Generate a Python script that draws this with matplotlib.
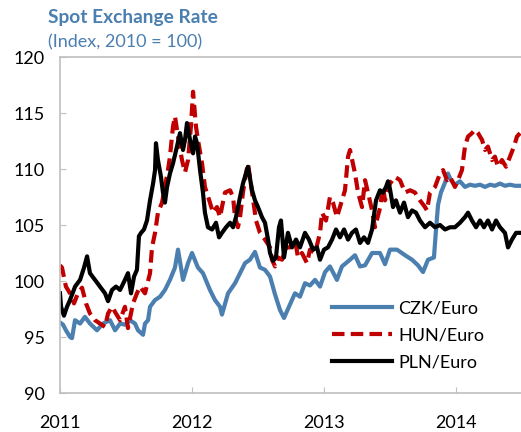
import matplotlib.pyplot as plt

# data (decimal years, index 2010 = 100)
czk_t = [2011.000, 2011.023, 2011.045, 2011.076, 2011.091, 2011.114, 2011.152, 2011.189, 2011.227, 2011.280,
         2011.326, 2011.379, 2011.417, 2011.455, 2011.492, 2011.530, 2011.568, 2011.591, 2011.629, 2011.644,
         2011.667, 2011.682, 2011.720, 2011.758, 2011.795, 2011.833, 2011.871, 2011.894, 2011.932, 2011.970,
         2012.000, 2012.045, 2012.083, 2012.136, 2012.174, 2012.212, 2012.227, 2012.273, 2012.326, 2012.364,
         2012.402, 2012.439, 2012.477, 2012.515, 2012.553, 2012.591, 2012.629, 2012.667, 2012.697, 2012.742,
         2012.780, 2012.818, 2012.856, 2012.894, 2012.932, 2012.970, 2013.008, 2013.045, 2013.098, 2013.136,
         2013.197, 2013.235, 2013.273, 2013.311, 2013.364, 2013.424, 2013.462, 2013.500, 2013.553, 2013.614,
         2013.667, 2013.712, 2013.750, 2013.788, 2013.833, 2013.848, 2013.864, 2013.886, 2013.917, 2013.939,
         2013.962, 2013.992, 2014.030, 2014.068, 2014.106, 2014.144, 2014.182, 2014.220, 2014.258, 2014.295,
         2014.333, 2014.371, 2014.409, 2014.447, 2014.485]
czk = [96.3, 96.1, 95.6, 95.0, 94.9, 96.5, 96.2, 96.8, 96.2, 95.6,
       96.2, 96.5, 95.6, 96.2, 96.1, 96.5, 96.2, 95.6, 95.2, 96.2,
       96.5, 97.7, 98.3, 98.6, 99.2, 100.1, 101.2, 102.8, 100.1, 101.6,
       102.5, 101.2, 100.7, 99.2, 98.3, 97.7, 97.0, 98.9, 99.8, 100.7,
       101.6, 101.9, 102.6, 101.2, 101.0, 100.4, 98.8, 97.4, 96.7, 97.9,
       98.9, 98.6, 99.8, 99.6, 100.1, 99.5, 100.8, 101.3, 100.1, 101.3,
       101.9, 102.3, 101.3, 101.4, 102.5, 102.5, 101.5, 102.8, 102.8, 102.3,
       101.9, 101.4, 100.8, 101.9, 102.1, 104.5, 106.8, 107.9, 108.8, 109.6,
       109.0, 108.6, 108.9, 108.4, 108.6, 108.5, 108.6, 108.4, 108.6, 108.5,
       108.7, 108.5, 108.6, 108.5, 108.5]

hun_t = [2011.000, 2011.015, 2011.045, 2011.076, 2011.106, 2011.136, 2011.167, 2011.197, 2011.227, 2011.265,
         2011.303, 2011.341, 2011.364, 2011.394, 2011.424, 2011.455, 2011.492, 2011.515, 2011.553, 2011.583,
         2011.606, 2011.644, 2011.682, 2011.697, 2011.720, 2011.742, 2011.773, 2011.795, 2011.818, 2011.833,
         2011.856, 2011.871, 2011.894, 2011.924, 2011.947, 2011.970, 2011.992, 2012.008, 2012.030, 2012.045,
         2012.076, 2012.098, 2012.136, 2012.159, 2012.189, 2012.212, 2012.227, 2012.250, 2012.288, 2012.311,
         2012.326, 2012.348, 2012.364, 2012.386, 2012.409, 2012.424, 2012.455, 2012.485, 2012.515, 2012.553,
         2012.591, 2012.606, 2012.629, 2012.652, 2012.682, 2012.712, 2012.742, 2012.780, 2012.803, 2012.833,
         2012.871, 2012.894, 2012.932, 2012.970, 2012.985, 2013.015, 2013.045, 2013.068, 2013.098, 2013.121,
         2013.159, 2013.182, 2013.197, 2013.235, 2013.258, 2013.288, 2013.311, 2013.333, 2013.364, 2013.386,
         2013.424, 2013.447, 2013.462, 2013.500, 2013.538, 2013.576, 2013.614, 2013.652, 2013.689, 2013.727,
         2013.765, 2013.780, 2013.803, 2013.841, 2013.879, 2013.902, 2013.932, 2013.955, 2013.992, 2014.015,
         2014.045, 2014.068, 2014.091, 2014.121, 2014.144, 2014.167, 2014.197, 2014.220, 2014.242, 2014.273,
         2014.295, 2014.318, 2014.348, 2014.379, 2014.409, 2014.439, 2014.462, 2014.485]
hun = [101.4, 101.2, 99.5, 98.9, 98.0, 98.9, 99.4, 98.0, 97.1, 96.5,
       96.2, 95.9, 97.1, 97.7, 97.1, 96.5, 97.7, 95.8, 98.0, 98.9,
       99.5, 98.9, 100.7, 103.0, 104.3, 106.1, 107.0, 108.4, 109.9, 111.1,
       113.8, 114.7, 112.9, 110.8, 109.7, 110.8, 113.8, 116.9, 113.8, 112.6,
       110.5, 108.4, 107.0, 106.1, 106.6, 105.7, 106.6, 107.9, 108.1, 107.5,
       105.7, 104.8, 105.7, 107.9, 109.6, 110.5, 107.9, 105.4, 104.3, 103.7,
       103.0, 101.9, 101.3, 102.1, 101.9, 103.0, 103.0, 103.7, 102.1, 102.5,
       101.6, 102.8, 102.5, 104.3, 106.1, 105.4, 107.5, 107.0, 105.7, 106.6,
       108.1, 111.1, 111.7, 109.6, 107.9, 106.6, 109.0, 107.9, 106.3, 104.8,
       106.5, 108.4, 107.2, 108.7, 109.3, 109.0, 107.9, 108.1, 107.9, 107.2,
       106.6, 106.3, 107.9, 108.4, 109.6, 109.9, 109.0, 109.3, 108.4, 109.0,
       109.9, 112.0, 112.9, 113.2, 113.5, 113.2, 112.6, 111.7, 112.0, 110.8,
       111.1, 110.2, 110.8, 110.2, 111.1, 112.0, 112.9, 113.2]

pln_t = [2011.000, 2011.008, 2011.030, 2011.053, 2011.076, 2011.114, 2011.152, 2011.182, 2011.205, 2011.227,
         2011.265, 2011.303, 2011.341, 2011.364, 2011.394, 2011.424, 2011.455, 2011.492, 2011.515, 2011.538,
         2011.561, 2011.583, 2011.598, 2011.614, 2011.636, 2011.659, 2011.682, 2011.705, 2011.720, 2011.727,
         2011.742, 2011.765, 2011.780, 2011.795, 2011.811, 2011.833, 2011.856, 2011.886, 2011.909, 2011.932,
         2011.947, 2011.962, 2011.985, 2012.008, 2012.023, 2012.038, 2012.061, 2012.083, 2012.098, 2012.121,
         2012.152, 2012.182, 2012.205, 2012.227, 2012.258, 2012.288, 2012.311, 2012.333, 2012.364, 2012.386,
         2012.409, 2012.424, 2012.455, 2012.477, 2012.500, 2012.530, 2012.553, 2012.576, 2012.591, 2012.614,
         2012.636, 2012.659, 2012.674, 2012.697, 2012.727, 2012.758, 2012.788, 2012.818, 2012.856, 2012.886,
         2012.917, 2012.947, 2012.970, 2013.000, 2013.030, 2013.061, 2013.091, 2013.121, 2013.152, 2013.182,
         2013.212, 2013.242, 2013.273, 2013.303, 2013.333, 2013.364, 2013.394, 2013.424, 2013.447, 2013.470,
         2013.485, 2013.500, 2013.523, 2013.545, 2013.576, 2013.606, 2013.636, 2013.667, 2013.697, 2013.727,
         2013.765, 2013.803, 2013.841, 2013.879, 2013.917, 2013.955, 2013.992, 2014.030, 2014.068, 2014.091,
         2014.121, 2014.152, 2014.182, 2014.212, 2014.242, 2014.273, 2014.303, 2014.333, 2014.371, 2014.394,
         2014.424, 2014.455, 2014.485]
pln = [98.9, 97.7, 96.9, 97.7, 98.3, 99.5, 100.1, 101.2, 102.2, 100.7,
       100.1, 99.5, 98.9, 98.2, 99.2, 99.5, 99.2, 100.1, 100.7, 98.9,
       100.4, 101.0, 104.0, 104.3, 104.6, 105.4, 107.2, 108.7, 109.9, 112.3,
       110.8, 109.3, 107.9, 107.0, 108.4, 109.6, 110.5, 112.0, 113.2, 111.7,
       112.6, 114.1, 112.6, 111.4, 112.9, 112.3, 109.9, 107.9, 106.1, 104.8,
       104.6, 105.2, 103.9, 104.3, 104.8, 105.2, 104.8, 105.7, 107.5, 108.7,
       109.6, 110.2, 108.1, 107.2, 106.6, 105.7, 105.2, 103.7, 102.5, 101.8,
       102.1, 104.8, 105.4, 102.1, 104.3, 103.0, 103.7, 103.0, 104.3, 103.7,
       102.8, 103.0, 101.9, 102.8, 103.0, 103.7, 104.6, 103.9, 104.6, 103.7,
       104.3, 104.6, 103.4, 103.9, 103.4, 104.6, 107.2, 108.1, 107.9, 108.4,
       108.9, 108.2, 106.6, 107.2, 106.1, 107.0, 105.7, 106.3, 106.1, 105.4,
       104.8, 105.2, 104.8, 105.0, 104.6, 104.8, 104.8, 105.2, 105.7, 106.1,
       105.4, 104.8, 105.4, 104.8, 105.4, 104.6, 105.4, 104.8, 104.3, 103.0,
       103.7, 104.3, 104.3]

years = [2011, 2012, 2013, 2014]
yticks = [90, 95, 100, 105, 110, 115, 120]

plt.rcParams['font.family'] = ['Lato', 'DejaVu Sans']

fig = plt.figure(figsize=(5.21, 4.32), dpi=100)
ax = fig.add_axes([60/521, 1-393/432, 1-60/521, 336/432])

ax.plot(czk_t, czk, color='#4a7fb0', lw=3.0, label='CZK/Euro')
ax.plot(hun_t, hun, color='#c00000', lw=3.0, dashes=(3.0, 1.5), label='HUN/Euro')
ax.plot(pln_t, pln, color='black', lw=3.0, label='PLN/Euro')

ax.set_xlim(2011, 2011 + 461/132)
ax.set_ylim(90, 120)
ax.set_xticks(years)
ax.set_xticklabels([str(y) for y in years])
ax.set_yticks(yticks)

for s in ['left', 'bottom', 'top']:
    ax.spines[s].set_color('#bfbfbf')
    ax.spines[s].set_linewidth(1.2)
ax.spines['right'].set_visible(False)
ax.tick_params(axis='both', direction='in', length=4.5, color='#bfbfbf', labelsize=13)
ax.tick_params(axis='x', pad=16)
ax.tick_params(axis='y', pad=11)

ax.legend(loc='upper left', bbox_to_anchor=(0.59, 0.275), frameon=False, fontsize=13,
          handlelength=3.3, handletextpad=0.35, labelspacing=0.6, borderpad=0, borderaxespad=0)

fig.text(48/521, 1-17/432, 'Spot Exchange Rate', color='#4a7fb0', fontsize=13.8,
         fontweight='bold', va='center', ha='left')
fig.text(48/521, 1-42/432, '(Index, 2010 = 100)', color='#4a7fb0', fontsize=13,
         va='center', ha='left')

fig.savefig('out.png', dpi=100)
